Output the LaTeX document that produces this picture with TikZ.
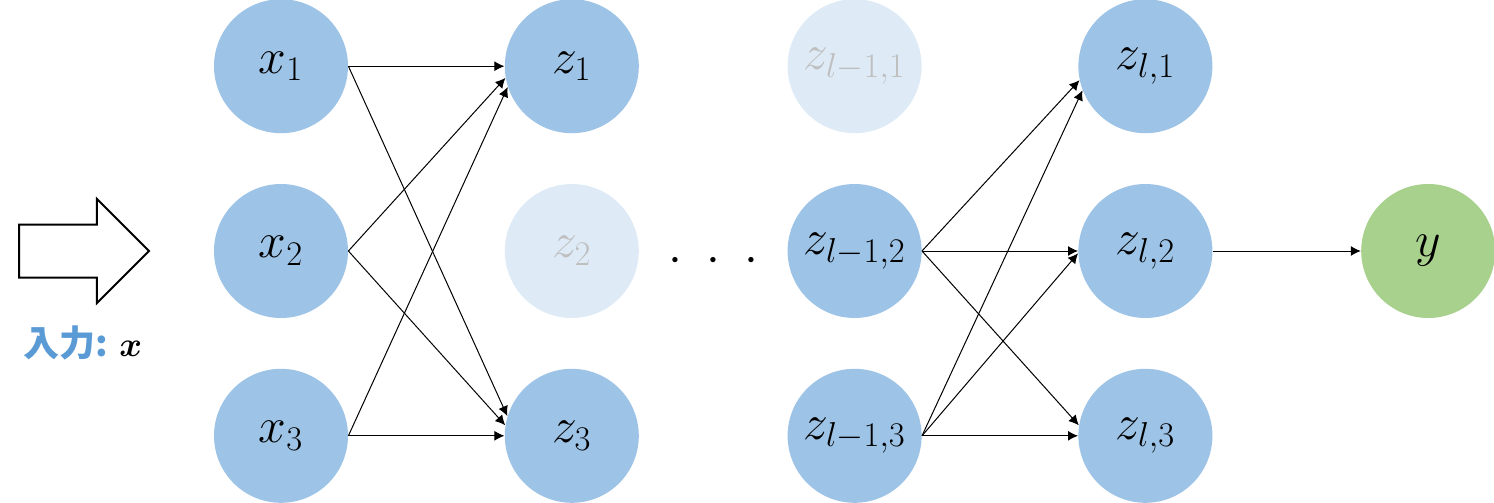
\documentclass[tikz,border=0pt]{standalone}
\usepackage{fontspec}
\usepackage{amsmath,bm}
\usepackage{xcolor}
\usetikzlibrary{arrows.meta,positioning,shapes.arrows,calc}
\newfontfamily\jpfont{Noto Sans CJK JP}
\definecolor{nodeblue}{HTML}{9DC3E6}
\definecolor{fadeblue}{HTML}{DEEBF7}
\definecolor{fadetext}{HTML}{BFBFBF}
\definecolor{outgreen}{HTML}{A9D18E}
\definecolor{labelblue}{HTML}{5B9BD5}

\begin{document}
\begin{tikzpicture}[
  x=0.5pt,y=-0.5pt,
  node distance=25pt and 76pt,
  neuron/.style={circle,fill=nodeblue,minimum size=67pt,inner sep=0pt,font=\fontsize{24}{28}\selectfont},
  faded/.style={neuron,fill=fadeblue,text=fadetext},
  outnode/.style={neuron,fill=outgreen},
  arr/.style={-{Latex[length=5pt,width=5pt]},line width=0.5pt}
]
\useasboundingbox (0,0) rectangle (1494,503);

% input arrow and label
\node[single arrow,draw,line width=1pt,minimum height=65pt,inner xsep=0pt,inner ysep=12.75pt,
  single arrow head extend=12.75pt,anchor=tail] (inarrow) at (18,251) {};
\node[font=\jpfont\bfseries\fontsize{18}{22}\selectfont,text=labelblue] (inlabel) at (83,343)
  {入力: \textcolor{black}{$\bm{x}$}};

% input layer
\node[neuron] (x2) at (281,251) {$x_2$};
\node[neuron,above=of x2] (x1) {$x_1$};
\node[neuron,below=of x2] (x3) {$x_3$};

% first hidden layer
\node[neuron,right=78pt of x1] (z1) {$z_1$};
\node[faded,right=78pt of x2] (z2) {$z_2$};
\node[neuron,right=78pt of x3] (z3) {$z_3$};

% layer l-1
\node[faded,right=74pt of z1] (zp1) {$z_{l-1,1}$};
\node[neuron,right=74pt of z2] (zp2) {$z_{l-1,2}$};
\node[neuron,right=74pt of z3] (zp3) {$z_{l-1,3}$};
\node[font=\fontsize{24}{28}\selectfont] (dots) at ($(z2)!0.5!(zp2)+(0,10)$)
  {$\cdot\hspace{6.5pt}\cdot\hspace{6.5pt}\cdot$};

% layer l
\node[neuron,right=78pt of zp1] (zl1) {$z_{l,1}$};
\node[neuron,right=78pt of zp2] (zl2) {$z_{l,2}$};
\node[neuron,right=78pt of zp3] (zl3) {$z_{l,3}$};

% output
\node[outnode,right=74pt of zl2] (y) {$y$};

\draw[arr] (x1.east) -- (z1.west);
\draw[arr] (x1.east) -- (z3.163);
\draw[arr] (x2.east) -- (z1.190);
\draw[arr] (x2.east) -- (z3.171);
\draw[arr] (x3.east) -- (z1.198);
\draw[arr] (x3.east) -- (z3.west);

\draw[arr] (zp2.east) -- (zl1.192);
\draw[arr] (zp2.east) -- (zl2.west);
\draw[arr] (zp2.east) -- (zl3.171);
\draw[arr] (zp3.east) -- (zl1.201);
\draw[arr] (zp3.east) -- (zl2.182);
\draw[arr] (zp3.east) -- (zl3.west);

\draw[arr] (zl2.east) -- (y.west);
\end{tikzpicture}
\end{document}
